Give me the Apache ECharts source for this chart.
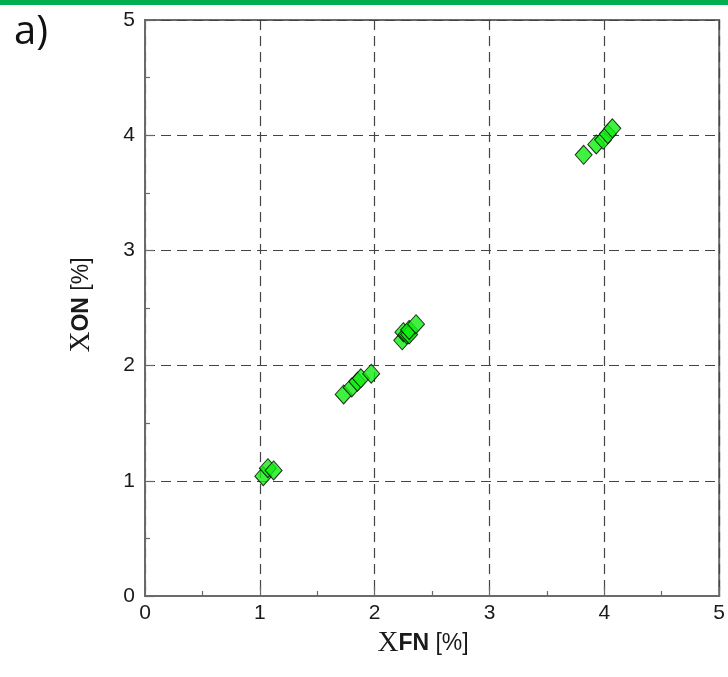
<!DOCTYPE html>
<html>
<head>
<meta charset="utf-8">
<script src="https://cdn.jsdelivr.net/npm/echarts@6/dist/echarts.min.js"></script>
<style>
  html, body { margin: 0; padding: 0; background: #fff; }
  #chart { width: 728px; height: 677px; }
</style>
</head>
<body>
<div id="chart"></div>
<script>
// Measured fractions: FN on x, ON on y (percent)
const xFN = [1.03, 1.07, 1.12,
             1.73, 1.80, 1.85, 1.88, 1.97,
             2.24, 2.25, 2.28, 2.30, 2.30, 2.36,
             3.82, 3.93, 3.99, 4.03, 4.07];
const xON = [1.04, 1.11, 1.09,
             1.75, 1.81, 1.86, 1.89, 1.93,
             2.22, 2.29, 2.27, 2.27, 2.31, 2.36,
             3.83, 3.92, 3.96, 4.01, 4.06];
const tickValues = [0, 1, 2, 3, 4, 5];

const points = xFN.map((v, i) => [v, xON[i]]);

const chart = echarts.init(document.getElementById('chart'));

const nameRich = {
  s: { fontFamily: 'Liberation Serif', fontSize: 29, color: '#1a1a1a' },
  b: { fontFamily: 'Liberation Sans', fontWeight: 'bold', fontSize: 23, color: '#1a1a1a' },
  r: { fontFamily: 'Liberation Sans', fontSize: 23, color: '#1a1a1a' }
};

function makeAxis(extra) {
  return Object.assign({
    type: 'value',
    min: tickValues[0],
    max: tickValues[tickValues.length - 1],
    interval: 1,
    axisLine: { show: true, lineStyle: { color: '#6a6a6a', width: 2 } },
    axisTick: { show: true, inside: true, length: 9, lineStyle: { color: '#6a6a6a', width: 1.2 } },
    minorTick: { show: true, splitNumber: 2, length: 5, lineStyle: { color: '#6a6a6a', width: 1.2 } },
    splitLine: { show: true, lineStyle: { color: '#444', type: [10, 6], width: 1.2 } }
  }, extra);
}

chart.setOption({
  animation: false,
  backgroundColor: '#fff',
  grid: {
    left: 145, top: 20, right: 6, bottom: 81,
    show: true, borderColor: '#6a6a6a', borderWidth: 2
  },
  xAxis: makeAxis({
    name: '{s|X}{b|FN}{r| [%]}',
    nameLocation: 'middle',
    nameGap: 28,
    nameTextStyle: { rich: nameRich, padding: [0, 18, 0, 0] },
    axisLabel: { fontFamily: 'Liberation Sans', fontSize: 21, color: '#1a1a1a', margin: 7 }
  }),
  yAxis: makeAxis({
    name: '{s|X}{b|ON}{r| [%]}',
    nameLocation: 'middle',
    nameGap: 49,
    nameTextStyle: { rich: nameRich, padding: [0, 0, 0, 6] },
    axisLabel: { fontFamily: 'Liberation Sans', fontSize: 21, color: '#1a1a1a', margin: 10 }
  }),
  graphic: [
    { type: 'rect', left: 0, top: 0, shape: { width: 728, height: 5 }, style: { fill: '#00b050' } },
    { type: 'text', left: 14, top: 13, style: { text: 'a)', font: '40px "Open Sans"', fill: '#111' } }
  ],
  series: [{
    type: 'scatter',
    data: points,
    symbol: 'diamond',
    symbolSize: [17, 19],
    itemStyle: { color: '#12ee12', borderColor: '#000', borderWidth: 1 }
  }]
});
</script>
</body>
</html>
